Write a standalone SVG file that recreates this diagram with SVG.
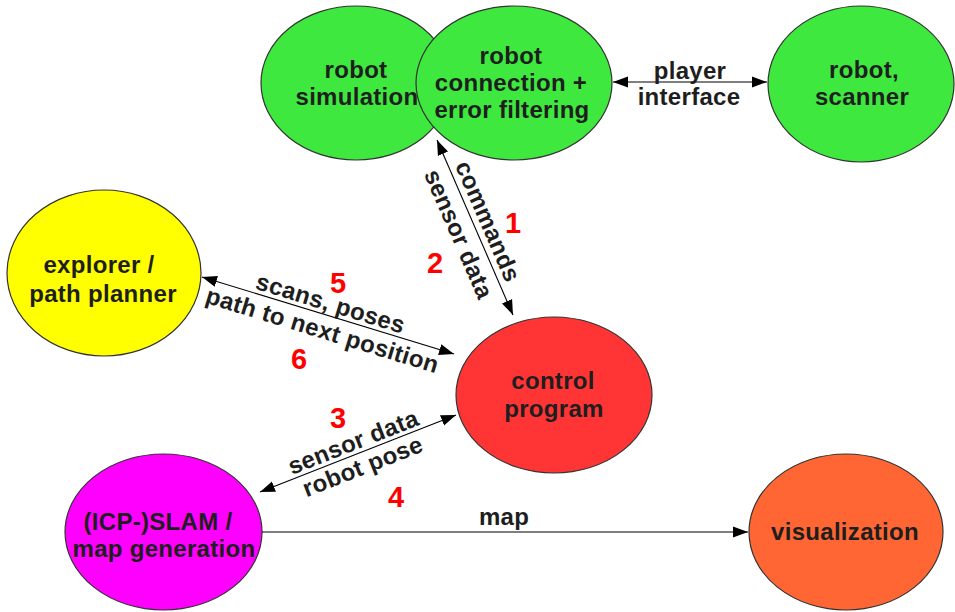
<svg xmlns="http://www.w3.org/2000/svg" width="955" height="612" viewBox="0 0 955 612">
<style>
.node{stroke:#333;stroke-width:1.2}
.lbl{font-family:"Liberation Sans",Arial,sans-serif;font-weight:bold;font-size:24px;letter-spacing:0.3px;fill:#1e1e1e;text-anchor:middle}
.num{font-family:"Liberation Sans",Arial,sans-serif;font-weight:bold;font-size:29px;fill:#ff0000;text-anchor:middle}
.edge{stroke:#000;stroke-width:1.1;fill:none;marker-end:url(#ah)}
.both{marker-start:url(#ah)}
</style>
<defs>
<marker id="ah" markerUnits="userSpaceOnUse" markerWidth="16" markerHeight="12" refX="15" refY="5.5" orient="auto-start-reverse" viewBox="0 0 16 11">
<path d="M0,0 L15,5.5 L0,11 z" fill="#000"/>
</marker>
</defs>
<rect width="955" height="612" fill="#fff"/>

<g id="robot-simulation">
<ellipse class="node" cx="356" cy="83" rx="95" ry="77" fill="#3ee83e"/>
<text class="lbl" x="356" y="78">robot</text>
<text class="lbl" x="357" y="105">simulation</text>
</g>
<g id="robot-connection">
<ellipse class="node" cx="514" cy="83" rx="98" ry="77" fill="#3ee83e"/>
<text class="lbl" x="511" y="64">robot</text>
<text class="lbl" x="511" y="91">connection +</text>
<text class="lbl" x="512" y="118">error filtering</text>
</g>
<g id="robot-scanner">
<ellipse class="node" cx="861" cy="84" rx="93" ry="78" fill="#3ee83e"/>
<text class="lbl" x="864" y="78">robot,</text>
<text class="lbl" x="862" y="105">scanner</text>
</g>
<g id="explorer">
<ellipse class="node" cx="104" cy="273" rx="97" ry="83" fill="#ffff00"/>
<text class="lbl" x="99" y="273">explorer /</text>
<text class="lbl" x="103" y="302">path planner</text>
</g>
<g id="control-program">
<ellipse class="node" cx="554" cy="395" rx="98" ry="78" fill="#ff3535"/>
<text class="lbl" x="553" y="389">control</text>
<text class="lbl" x="554" y="417">program</text>
</g>
<g id="slam">
<ellipse class="node" cx="163.5" cy="532" rx="98.5" ry="78" fill="#ff00ff"/>
<text class="lbl" x="158" y="530">(ICP-)SLAM /</text>
<text class="lbl" x="164" y="557">map generation</text>
</g>
<g id="visualization">
<ellipse class="node" cx="846" cy="532" rx="97" ry="78" fill="#ff6633"/>
<text class="lbl" x="845" y="540">visualization</text>
</g>

<g id="connectors">
<line class="edge both" x1="613" y1="82" x2="767" y2="82"/>
<text class="lbl" x="690" y="79">player</text>
<text class="lbl" x="689" y="105">interface</text>

<line class="edge both" x1="437" y1="140" x2="513" y2="315"/>
<g transform="translate(475,227) rotate(66.5)">
<text class="lbl" x="0" y="-6">commands</text>
<text class="lbl" x="0" y="26">sensor data</text>
</g>

<line class="edge both" x1="202" y1="277" x2="454" y2="354"/>
<g transform="translate(327,315) rotate(17)">
<text class="lbl" x="0" y="-4">scans, poses</text>
<text class="lbl" x="0" y="24">path to next position</text>
</g>

<line class="edge both" x1="260" y1="492" x2="456" y2="415"/>
<g transform="translate(357.6,453.5) rotate(-21.5)">
<text class="lbl" x="0" y="-4">sensor data</text>
<text class="lbl" x="0" y="22">robot pose</text>
</g>

<line class="edge" x1="262" y1="532" x2="748" y2="532"/>
<text class="lbl" x="504" y="525">map</text>

<text class="num" x="513" y="233">1</text>
<text class="num" x="435" y="273">2</text>
<text class="num" x="338" y="428">3</text>
<text class="num" x="396" y="507">4</text>
<text class="num" x="338" y="293">5</text>
<text class="num" x="299" y="369">6</text>
</g>
</svg>
